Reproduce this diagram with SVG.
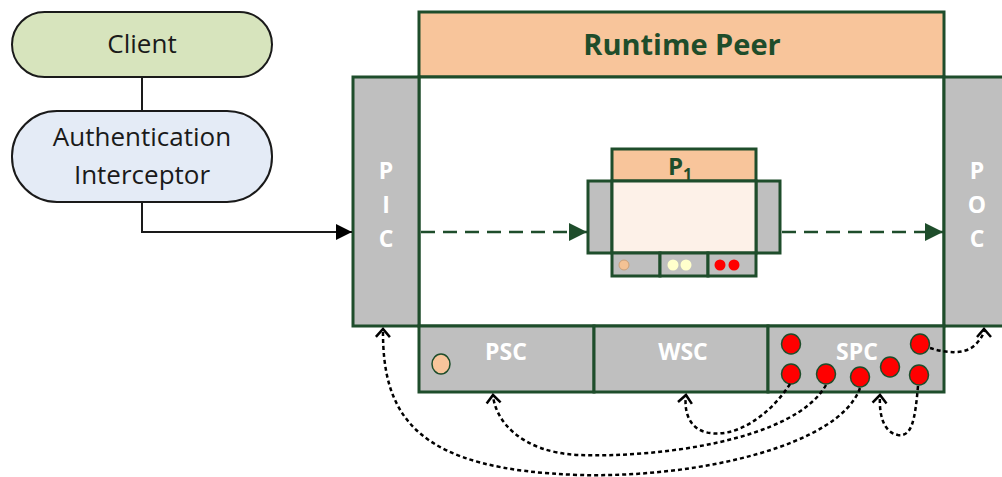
<svg xmlns="http://www.w3.org/2000/svg" width="1002" height="477" viewBox="0 0 1002 477">
  <defs>
    <style>
      .pill { stroke: #1a1a1a; stroke-width: 2; }
      .box { stroke: #1e4d2b; stroke-width: 3; }
      .gray { fill: #bfbfbf; }
      .peach { fill: #f8c59b; }
      .lbl { font-family: "Open Sans", "Liberation Sans", sans-serif; font-size: 26px; fill: #1a1a1a; text-anchor: middle; }
      .wlbl { font-family: "Open Sans", "Liberation Sans", sans-serif; font-weight: bold; font-size: 23px; fill: #ffffff; text-anchor: middle; }
      .glbl { font-family: "Open Sans", "Liberation Sans", sans-serif; font-weight: bold; fill: #1e4d2b; text-anchor: middle; }
      .dot { stroke: #1e4d2b; stroke-width: 1.5; }
      .red { fill: #ff0000; }
      .flow { fill: none; stroke: #1e4d2b; stroke-width: 2.5; stroke-dasharray: 14 8; }
      .link { fill: none; stroke: #000000; stroke-width: 2.5; stroke-dasharray: 4 3; }
    </style>
    <marker id="arrBlack" markerUnits="userSpaceOnUse" markerWidth="20" markerHeight="20" refX="16" refY="8" orient="auto">
      <path d="M0,0 L16,8 L0,16 Z" fill="#000000"/>
    </marker>
    <marker id="arrGreen" markerUnits="userSpaceOnUse" markerWidth="20" markerHeight="20" refX="18" refY="9" orient="auto">
      <path d="M0,0 L18,9 L0,18 Z" fill="#1e4d2b"/>
    </marker>
    <marker id="arrOpen" markerUnits="userSpaceOnUse" markerWidth="20" markerHeight="20" refX="10" refY="10" orient="auto">
      <path d="M2,3 L10,10 L2,17" fill="none" stroke="#000000" stroke-width="2.5"/>
    </marker>
  </defs>

  <rect width="1002" height="477" fill="#ffffff"/>

  <!-- left-hand client chain -->
  <g id="client">
    <rect class="pill" x="12" y="12" width="260" height="65" rx="32.5" fill="#d7e4bd"/>
    <text class="lbl" x="142" y="53">Client</text>
  </g>
  <g id="auth-interceptor">
    <rect class="pill" x="12" y="111" width="260" height="91" rx="45" fill="#e4ebf6"/>
    <text class="lbl" x="142" y="146">Authentication</text>
    <text class="lbl" x="142" y="184">Interceptor</text>
  </g>

  <!-- runtime peer container -->
  <g id="runtime-peer">
    <rect class="box peach" x="419" y="12" width="525" height="65"/>
    <text class="glbl" x="682" y="55" font-size="29">Runtime Peer</text>
    <rect class="box" x="419" y="77" width="525" height="249" fill="#ffffff"/>
  </g>
  <g id="pic">
    <rect class="box gray" x="353" y="77" width="66" height="249"/>
    <text class="wlbl" x="386" y="179">P</text>
    <text class="wlbl" x="386" y="213">I</text>
    <text class="wlbl" x="386" y="247">C</text>
  </g>
  <g id="poc">
    <rect class="box gray" x="944" y="77" width="70" height="249"/>
    <text class="wlbl" x="977" y="179">P</text>
    <text class="wlbl" x="977" y="213">O</text>
    <text class="wlbl" x="977" y="247">C</text>
  </g>

  <!-- bottom service row -->
  <g id="psc">
    <rect class="box gray" x="419" y="326" width="175" height="66"/>
    <text class="wlbl" x="506" y="360">PSC</text>
    <ellipse class="dot peach" cx="441" cy="364" rx="9" ry="10"/>
  </g>
  <g id="wsc">
    <rect class="box gray" x="594" y="326" width="174" height="66"/>
    <text class="wlbl" x="683" y="360">WSC</text>
  </g>
  <g id="spc">
    <rect class="box gray" x="768" y="326" width="176" height="66"/>
    <text class="wlbl" x="857" y="360">SPC</text>
    <ellipse class="dot red" cx="791" cy="344" rx="9.5" ry="10"/>
    <ellipse class="dot red" cx="791" cy="374" rx="9.5" ry="10"/>
    <ellipse class="dot red" cx="826" cy="374" rx="9.5" ry="10"/>
    <ellipse class="dot red" cx="860" cy="377" rx="9.5" ry="10"/>
    <ellipse class="dot red" cx="890" cy="367" rx="9.5" ry="10"/>
    <ellipse class="dot red" cx="920" cy="344" rx="9.5" ry="10"/>
    <ellipse class="dot red" cx="919" cy="375" rx="9.5" ry="10"/>
  </g>

  <!-- inner peer P1 -->
  <g id="p1">
    <rect class="box peach" x="612" y="149" width="144" height="32"/>
    <text class="glbl" x="680" y="175" font-size="24">P<tspan font-size="16" dy="5">1</tspan></text>
    <rect class="box gray" x="588" y="181" width="24" height="72"/>
    <rect class="box gray" x="756" y="181" width="24" height="72"/>
    <rect class="box" x="612" y="181" width="144" height="72" fill="#fdf1e8"/>
    <rect class="box gray" x="612" y="253" width="48" height="23"/>
    <rect class="box gray" x="660" y="253" width="48" height="23"/>
    <rect class="box gray" x="708" y="253" width="48" height="23"/>
    <circle cx="624" cy="265" r="5" fill="#f4c294" stroke="#c9a07a" stroke-width="1"/>
    <circle cx="673" cy="265" r="5.5" fill="#ffffcc"/>
    <circle cx="686" cy="265" r="5.5" fill="#ffffcc"/>
    <circle cx="720" cy="265" r="5.5" fill="#ff0000"/>
    <circle cx="734" cy="265" r="5.5" fill="#ff0000"/>
  </g>

  <!-- connectors -->
  <g id="connectors">
    <path d="M142,77 L142,111" fill="none" stroke="#1a1a1a" stroke-width="2"/>
    <path d="M142,202 L142,232 L352,232" fill="none" stroke="#1a1a1a" stroke-width="2" marker-end="url(#arrBlack)"/>
    <path class="flow" d="M421,232 L587,232" marker-end="url(#arrGreen)"/>
    <path class="flow" d="M782,232 L943,232" marker-end="url(#arrGreen)"/>
    <path class="link" d="M790,384 C770,415 735,440 705,432 C688,427 684,410 686,395" marker-end="url(#arrOpen)"/>
    <path class="link" d="M826,385 C795,440 660,458 578,455 C520,452 495,420 493,395" marker-end="url(#arrOpen)"/>
    <path class="link" d="M860,388 C840,445 700,478 580,475 C420,470 382,420 383,329" marker-end="url(#arrOpen)"/>
    <path class="link" d="M918,386 C915,420 912,437 898,435 C882,432 879,412 880,395" marker-end="url(#arrOpen)"/>
    <path class="link" d="M930,348 C945,353 965,355 975,345 C982,338 984,333 984,329" marker-end="url(#arrOpen)"/>
  </g>
</svg>
